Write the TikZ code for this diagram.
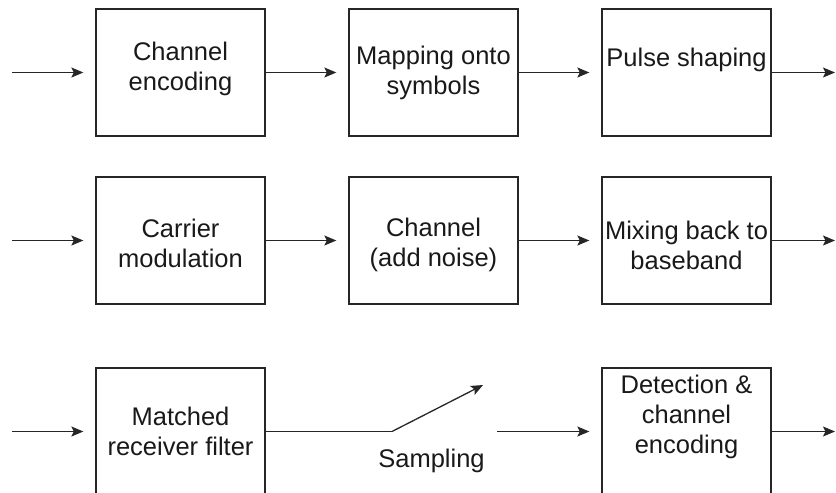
\documentclass[tikz,border=0pt]{standalone}
\usepackage{fontspec}
\setmainfont{Liberation Sans}
\usetikzlibrary{arrows.meta}

\begin{document}
\begin{tikzpicture}[x=1pt,y=-1pt,>={Stealth[length=12pt,width=10pt,inset=2.5pt]},line width=1.3pt,
  blk/.style={draw=black!85,minimum width=169pt,minimum height=127pt,inner sep=0pt},
  lbl/.style={align=center,text=black!90,font=\fontsize{25.5}{30}\selectfont}]
  \useasboundingbox (0,0) rectangle (836,493);
  \foreach \n/\x/\y/\dy/\t in {enc/180.5/72.5/4/{Channel\\encoding},
    map/433.5/72.5/0/{Mapping onto\\symbols},
    pulse/686.5/72.5/13/{Pulse shaping},
    carr/180.5/240.5/-2.5/{Carrier\\modulation},
    chan/433.5/240.5/-4.5/{Channel\\(add noise)},
    mix/686.5/240.5/-4.5/{Mixing back to\\baseband},
    filt/180.5/431.5/0/{Matched\\receiver filter},
    det/686.5/431.5/15/{Detection \&\\channel\\encoding}}
  {
    \node (\n) at (\x,\y) [blk]{};
    \node (t\n) at ([yshift=\dy pt]\n.center) [lbl]{\t};
  }
  \foreach \r/\y in {1/72.5,2/240.5,3/431.5}
  {
    \coordinate (in\r) at (12,\y);
    \coordinate (out\r) at (835,\y);
  }
  \draw[draw=black!85,->,shorten >=12pt](in1)--(enc);
  \draw[draw=black!85,->,shorten >=12pt](enc)--(map);
  \draw[draw=black!85,->,shorten >=12pt](map)--(pulse);
  \draw[draw=black!85,->](pulse)--(out1);
  \draw[draw=black!85,->,shorten >=12pt](in2)--(carr);
  \draw[draw=black!85,->,shorten >=12pt](carr)--(chan);
  \draw[draw=black!85,->,shorten >=12pt](chan)--(mix);
  \draw[draw=black!85,->](mix)--(out2);
  \coordinate (sw1) at (392,431.5);
  \coordinate (sw2) at (483,385);
  \coordinate (sw3) at (497,431.5);
  \draw[draw=black!85,->,shorten >=12pt](in3)--(filt);
  \draw[draw=black!85](filt)--(sw1);
  \draw[draw=black!85,->](sw1)--(sw2);
  \draw[draw=black!85,->,shorten >=12pt](sw3)--(det);
  \draw[draw=black!85,->](det)--(out3);
  \node (samp) at (431.5,461) [lbl]{Sampling};
\end{tikzpicture}
\end{document}
